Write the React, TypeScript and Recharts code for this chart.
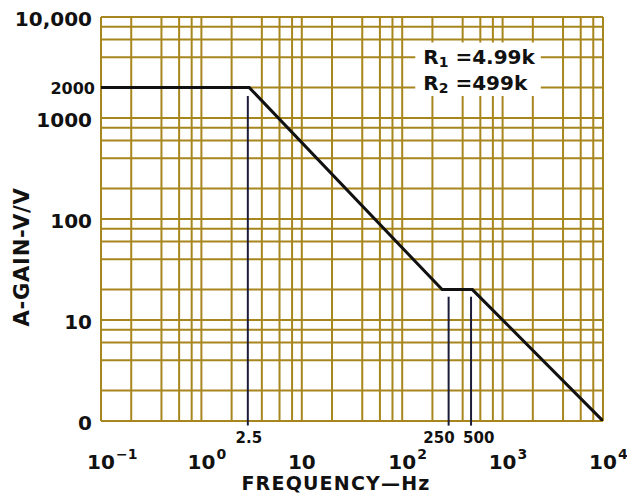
import React from 'react';
import { ComposedChart, Line, XAxis, YAxis, CartesianGrid, ReferenceArea, ReferenceLine } from 'recharts';

// gain curve corners
const freqHz = [0.1, 3, 250, 500, 10000];
const gainVV = [2000, 2000, 20, 20, 1];

// log paper lines: 1, 2, 4, 6, 8 per decade
const gridFreqs = [0.1, 0.2, 0.4, 0.6, 0.8, 1, 2, 4, 6, 8, 10, 20, 40, 60, 80, 100, 200, 400, 600, 800, 1000, 2000, 4000, 6000, 8000, 10000];
const gridGains = [1, 2, 4, 6, 8, 10, 20, 40, 60, 80, 100, 200, 400, 600, 800, 1000, 2000, 4000, 6000, 8000, 10000];

const xTicks = [0.1, 1, 10, 100, 1000, 10000];
const xTickExps = ['\u22121', '0', '', '2', '3', '4'];

const yTicks = [1, 10, 100, 1000, 2000, 10000];
const yTickLabels = ['0', '10', '100', '1000', '2000', '10,000'];

// break-point markers
const markerFreqs = [2.9, 290, 485];
const markerLabels = ['2.5', '250', '500'];
const markerTops = [1650, 17, 17];

const data = freqHz.map((f, i) => ({ f, gain: gainVV[i] }));

const FONT = 'DejaVu Sans, Verdana, sans-serif';
const GRID = '#a8861e';
const INK = '#111111';

const XTick = ({ x, y, payload }: any) => {
  const v = payload.value;
  const mi = markerFreqs.indexOf(v);
  if (mi >= 0) {
    const anchor = mi === 0 ? 'middle' : mi === 1 ? 'end' : 'start';
    const dx = mi === 0 ? 1 : mi === 1 ? 6 : -8;
    return (
      <text x={x + dx} y={y + 22} textAnchor={anchor} fontFamily={FONT} fontWeight="bold" fontSize={15} fill={INK}>
        {markerLabels[mi]}
      </text>
    );
  }
  const i = xTicks.indexOf(v);
  return (
    <g>
      <text x={x} y={y + 48} textAnchor="middle" fontFamily={FONT} fontWeight="bold" fontSize={20} fill={INK}>
        10
      </text>
      {xTickExps[i] && (
        <text x={x + 15} y={y + 38} textAnchor="start" fontFamily={FONT} fontWeight="bold" fontSize={14} fill={INK}>
          {xTickExps[i]}
        </text>
      )}
    </g>
  );
};

const YTick = ({ x, y, payload }: any) => {
  const i = yTicks.indexOf(payload.value);
  const small = payload.value === 2000;
  return (
    <text x={x + (small ? 2 : -1)} y={y + (small ? 6 : 9)} textAnchor="end" fontFamily={FONT} fontWeight="bold" fontSize={small ? 16 : 20} fill={INK}>
      {yTickLabels[i]}
    </text>
  );
};

const ResistorNote = ({ viewBox }: any) => {
  const { x, y } = viewBox;
  return (
    <g fontFamily={FONT} fontWeight="bold" fill={INK}>
      <text x={x + 8} y={y + 22} fontSize={20}>
        R<tspan fontSize={14} dy={3}>1</tspan><tspan dy={-3}> =4.99k</tspan>
      </text>
      <text x={x + 8} y={y + 48} fontSize={20}>
        R<tspan fontSize={14} dy={3}>2</tspan><tspan dy={-3}> =499k</tspan>
      </text>
    </g>
  );
};

export default function App() {
  return (
    <div style={{ position: 'absolute', left: 8, top: 8, width: 619, height: 485 }}>
      <ComposedChart width={619} height={485} data={data} margin={{ top: 9, right: 24, left: 0, bottom: 0 }}>
        <CartesianGrid
          stroke={GRID}
          strokeWidth={2}
          verticalValues={gridFreqs}
          horizontalValues={gridGains}
        />
        <XAxis
          dataKey="f"
          type="number"
          scale="log"
          domain={[0.1, 10000]}
          ticks={[...xTicks, ...markerFreqs]}
          interval={0}
          allowDataOverflow
          axisLine={false}
          tickLine={false}
          tickSize={0}
          tickMargin={0}
          height={72}
          tick={<XTick />}
          label={{
            content: ({ viewBox }: any) => (
              <text x={viewBox.x + 235} y={viewBox.y + 69} textAnchor="middle" fontFamily={FONT} fontWeight="bold" fontSize={19} letterSpacing={1.2} fill={INK}>
                FREQUENCY—Hz
              </text>
            ),
          }}
        />
        <YAxis
          type="number"
          scale="log"
          domain={[1, 10000]}
          ticks={yTicks}
          interval={0}
          allowDataOverflow
          axisLine={false}
          tickLine={false}
          tickSize={0}
          tickMargin={8}
          width={93}
          tick={<YTick />}
          label={{
            content: ({ viewBox }: any) => (
              <text
                x={viewBox.x + 14}
                y={viewBox.y + 240}
                transform={`rotate(-90 ${viewBox.x + 14} ${viewBox.y + 240})`}
                textAnchor="middle"
                dominantBaseline="central"
                fontFamily={FONT}
                fontWeight="bold"
                fontSize={21}
                letterSpacing={0.8}
                fill={INK}
              >
                A-GAIN-V/V
              </text>
            ),
          }}
        />
        <ReferenceArea x1={135} x2={2400} y1={1650} y2={5600} fill="#ffffff" fillOpacity={1} stroke="none" label={<ResistorNote />} />
        {markerFreqs.map((f, i) => (
          <ReferenceLine
            key={f}
            segment={[{ x: f, y: 0.9 }, { x: f, y: markerTops[i] }]}
            stroke="#1c1c3a"
            strokeWidth={2}
            ifOverflow="visible"
          />
        ))}
        <Line type="linear" dataKey="gain" stroke={INK} strokeWidth={3} dot={false} isAnimationActive={false} />
      </ComposedChart>
    </div>
  );
}
